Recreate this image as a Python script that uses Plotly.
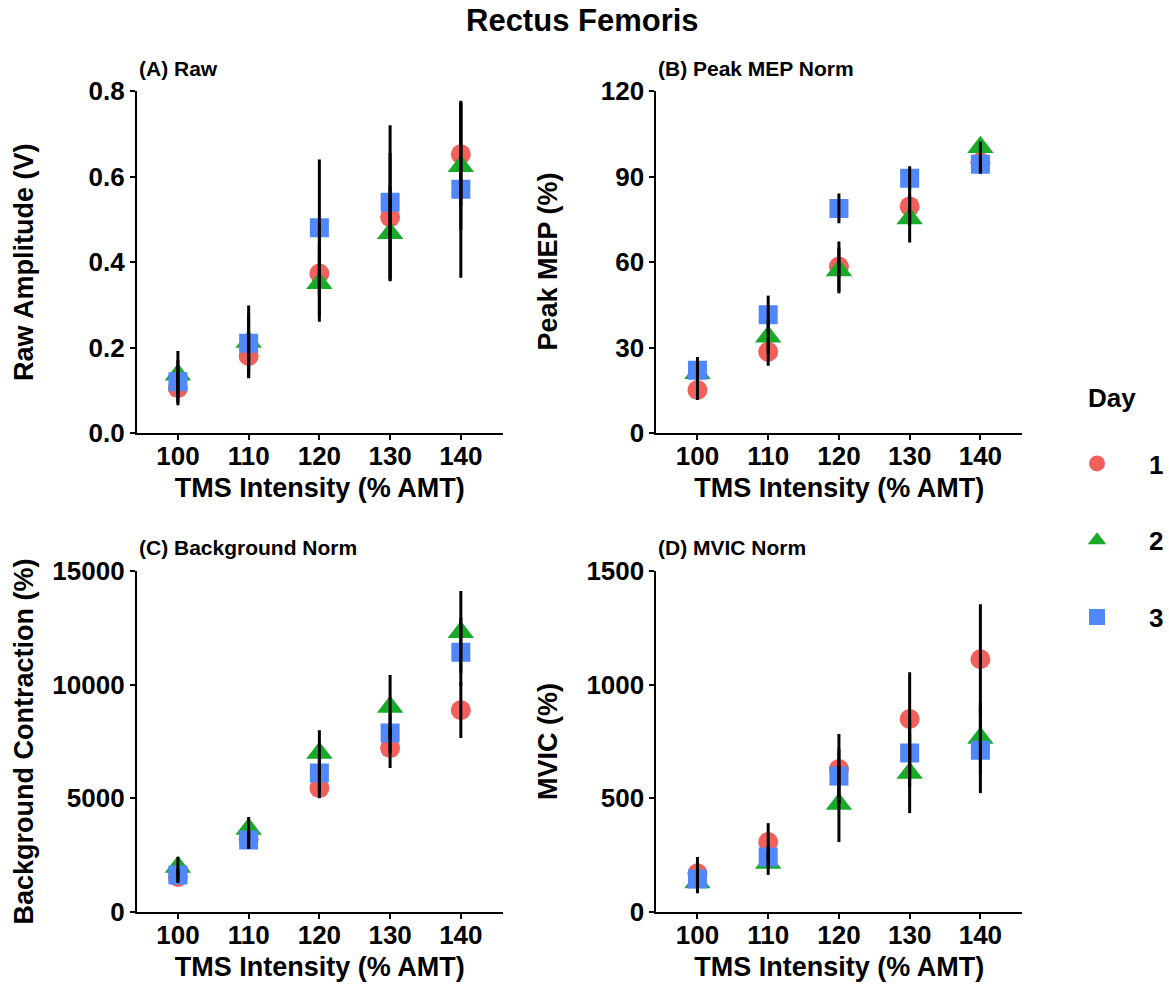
import plotly.graph_objects as go

intensity = [100, 110, 120, 130, 140]
days = ["1", "2", "3"]

# (A) Raw amplitude (V)
raw_mean = {"1": [0.105, 0.18, 0.373, 0.505, 0.652],
            "2": [0.136, 0.213, 0.35, 0.467, 0.624],
            "3": [0.12, 0.21, 0.48, 0.54, 0.57]}
raw_err = {"1": [0.04, 0.05, 0.10, 0.15, 0.12],
           "2": [0.056, 0.085, 0.09, 0.11, 0.15],
           "3": [0.05, 0.07, 0.16, 0.18, 0.207]}

# (B) Peak MEP norm (%)
peak_mean = {"1": [15.1, 28.5, 58.4, 79.5, 95.0],
             "2": [21.0, 33.8, 57.0, 75.3, 100.3],
             "3": [22.0, 41.5, 78.8, 89.4, 94.3]}
peak_err = {"1": [3.5, 4.9, 8.8, 7.0, 4.0],
            "2": [4.0, 6.0, 8.0, 8.5, 2.0],
            "3": [4.7, 6.7, 5.2, 4.2, 3.0]}

# (C) Background norm (%)
bg_mean = {"1": [1540, 3200, 5450, 7210, 8880],
           "2": [1980, 3650, 6990, 9020, 12310],
           "3": [1630, 3170, 6110, 7870, 11430]}
bg_err = {"1": [260, 400, 450, 880, 1230],
          "2": [440, 530, 1010, 1400, 1810],
          "3": [300, 400, 800, 900, 1500]}

# (D) MVIC norm (%)
mvic_mean = {"1": [170, 308, 629, 849, 1112],
             "2": [130, 215, 475, 611, 765],
             "3": [145, 242, 598, 699, 712]}
mvic_err = {"1": [72, 83, 154, 206, 242],
            "2": [47, 52, 167, 176, 160],
            "3": [40, 50, 120, 150, 189]}

panel_titles = ["(A) Raw", "(B) Peak MEP Norm", "(C) Background Norm", "(D) MVIC Norm"]
y_titles = ["Raw Amplitude (V)", "Peak MEP (%)", "Background Contraction (%)", "MVIC (%)"]
y_ranges = [[0, 0.8], [0, 120], [0, 15000], [0, 1500]]
y_ticks = [[0, 0.2, 0.4, 0.6, 0.8], [0, 30, 60, 90, 120], [0, 5000, 10000, 15000], [0, 500, 1000, 1500]]
y_fmt = [".1f", "d", "d", "d"]
x_title = "TMS Intensity (% AMT)"

colors = {"1": "#F2605C", "2": "#1AAA2A", "3": "#5087FA"}
symbols = {"1": "circle", "2": "triangle-up", "3": "square"}
sizes = {"1": 20, "2": 23, "3": 19}

W, H = 1169, 986
FONT = "Liberation Sans"

panels = [(raw_mean, raw_err), (peak_mean, peak_err), (bg_mean, bg_err), (mvic_mean, mvic_err)]

# pixel layout
xdom_px = [(137, 503), (657, 1023), (137, 503), (657, 1023)]
ydom_px = [(91, 433), (91, 433), (571, 912), (571, 912)]
ytitle_x = [24, 548, 24, 548]

fig = go.Figure()
layout = {}
annotations = []
for i, (means, errs) in enumerate(panels):
    n = "" if i == 0 else str(i + 1)
    xa, ya = "x" + n, "y" + n
    for d in days:
        fig.add_trace(go.Scatter(
            x=intensity, y=means[d], mode="markers", xaxis=xa, yaxis=ya,
            name=d, legendgroup=d, showlegend=(i == 0),
            marker=dict(symbol=symbols[d], size=sizes[d], color=colors[d], line=dict(width=0)),
            hoverinfo="skip"))
    for d in days:
        fig.add_trace(go.Scatter(
            x=intensity, y=means[d], mode="markers", xaxis=xa, yaxis=ya,
            showlegend=False, marker=dict(size=2, opacity=0),
            error_y=dict(type="data", array=errs[d], visible=True, color="black",
                         thickness=3, width=0),
            hoverinfo="skip"))
    x0, x1 = xdom_px[i]
    y0, y1 = ydom_px[i]
    axis_common = dict(showline=True, linecolor="black", linewidth=2, ticks="outside",
                       ticklen=5, tickwidth=2, tickcolor="black", showgrid=False,
                       zeroline=False, automargin=False,
                       tickfont=dict(family=FONT, size=26, color="black", weight="bold"))
    layout["xaxis" + n] = dict(axis_common, domain=[x0 / W, x1 / W], range=[94.2, 145.9],
                               anchor=ya, tickvals=intensity, ticklabelstandoff=-6,
                               title=dict(text=x_title, standoff=8,
                                          font=dict(family=FONT, size=27, color="black", weight="bold")))
    layout["yaxis" + n] = dict(axis_common, domain=[1 - y1 / H, 1 - y0 / H], range=y_ranges[i],
                               anchor=xa, tickvals=y_ticks[i], tickformat=y_fmt[i])
    annotations.append(dict(text=y_titles[i], x=ytitle_x[i] / W, y=1 - (y0 + y1) / 2 / H,
                            xref="paper", yref="paper", xanchor="center", yanchor="middle",
                            textangle=-90, showarrow=False,
                            font=dict(family=FONT, size=27, color="black", weight="bold")))

annotations.append(dict(text="Rectus Femoris", x=583 / W, y=1 - 20 / H, xref="paper", yref="paper",
                        xanchor="center", yanchor="middle", showarrow=False,
                        font=dict(family=FONT, size=31, color="black", weight="bold")))
title_pos = [(137, 68), (657, 68), (137, 547), (657, 547)]
for t, (px, py) in zip(panel_titles, title_pos):
    annotations.append(dict(text=t, x=px / W, y=1 - py / H, xref="paper", yref="paper",
                            xanchor="left", yanchor="middle", showarrow=False,
                            font=dict(family=FONT, size=21, color="black", weight="bold")))
annotations.append(dict(text="Day", x=1087 / W, y=1 - 398 / H, xref="paper", yref="paper",
                        xanchor="left", yanchor="middle", showarrow=False,
                        font=dict(family=FONT, size=26, color="black", weight="bold")))

fig.update_layout(
    width=W, height=H, margin=dict(l=0, r=0, t=0, b=0),
    paper_bgcolor="white", plot_bgcolor="white",
    annotations=annotations,
    legend=dict(x=1046 / W, y=1 - 440 / H, xanchor="left", yanchor="top",
                font=dict(family=FONT, size=26, color="black", weight="bold"),
                tracegroupgap=40, itemsizing="trace", itemwidth=94,
                bgcolor="rgba(0,0,0,0)"),
    **layout)

fig.write_html("out.html")
